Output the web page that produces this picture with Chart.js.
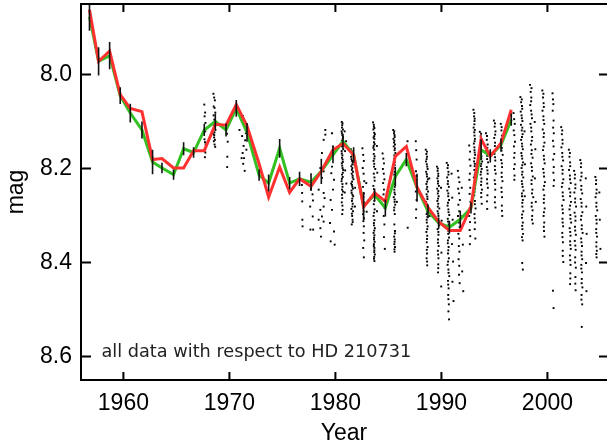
<!DOCTYPE html>
<html>
<head>
<meta charset="utf-8">
<script src="https://cdn.jsdelivr.net/npm/chart.js@4.4.0/dist/chart.umd.min.js"></script>
<style>
html,body{margin:0;padding:0;background:#fff;}
#wrap{width:607px;height:443px;position:relative;}
</style>
</head>
<body>
<div id="wrap"><canvas id="c" width="607" height="443"></canvas></div>
<script>
// ---- data ----
const seasonYears = [1956.8,1957.66,1958.7,1959.7,1960.65,1961.75,1962.75,1963.64,1964.73,1965.68,1966.62,1967.63,1968.67,1969.68,1970.65,1971.66,1972.8,1973.7,1974.74,1975.68,1976.62,1977.7,1978.67,1979.77,1980.71,1981.72,1982.66,1983.7,1984.71,1985.65,1986.69,1987.7,1988.73,1989.74,1990.75,1991.78,1992.79,1993.74,1994.61,1995.62,1996.59];
const greenMag = [7.877,7.972,7.960,8.045,8.082,8.118,8.186,8.199,8.213,8.158,8.166,8.118,8.100,8.118,8.072,8.123,8.214,8.231,8.157,8.231,8.222,8.229,8.206,8.171,8.142,8.171,8.280,8.256,8.284,8.217,8.181,8.241,8.291,8.316,8.325,8.308,8.284,8.160,8.173,8.150,8.096];
const redMag = [7.862,7.972,7.950,8.043,8.072,8.079,8.181,8.179,8.199,8.199,8.162,8.162,8.106,8.108,8.064,8.109,8.190,8.261,8.197,8.251,8.222,8.238,8.206,8.160,8.147,8.171,8.282,8.252,8.270,8.174,8.153,8.240,8.283,8.313,8.332,8.332,8.281,8.137,8.174,8.146,8.075];
const errMag = [0.030,0.030,0.029,0.018,0.020,0.018,0.026,0.011,0.011,0.014,0.011,0.013,0.017,0.014,0.018,0.020,0.012,0.018,0.020,0.013,0.015,0.019,0.027,0.018,0.016,0.016,0.030,0.013,0.018,0.020,0.014,0.030,0.015,0.012,0.014,0.018,0.012,0.022,0.014,0.014,0.013];
const xTickValues = [1960,1970,1980,1990,2000];
const yTickValues = [8.0,8.2,8.4,8.6];
const xTitle = 'Year';
const yTitle = 'mag';
const noteText = 'all data with respect to HD 210731';
const dots = [
[1967.63,8.064],[1967.71,8.081],[1967.66,8.089],[1967.74,8.103],[1967.69,8.117],[1967.72,8.121],[1967.65,8.138],[1967.70,8.144],[1967.76,8.149],[1967.67,8.162],[1967.73,8.166],[1967.69,8.176],
[1968.49,8.041],[1968.56,8.049],[1968.63,8.055],[1968.52,8.068],[1968.60,8.071],[1968.67,8.081],[1968.51,8.087],[1968.58,8.096],[1968.64,8.099],[1968.54,8.109],[1968.61,8.116],[1968.68,8.118],[1968.50,8.127],[1968.57,8.129],[1968.63,8.139],[1968.53,8.142],[1968.60,8.149],[1968.66,8.154],[1968.56,8.134],[1968.59,8.123],
[1969.78,8.126],[1969.80,8.175],[1969.79,8.197],[1969.84,8.143],
[1970.95,8.118],[1971.05,8.083],[1971.12,8.096],[1971.20,8.131],[1971.28,8.088],[1971.34,8.152],[1971.40,8.107],[1971.25,8.167],[1971.48,8.140],[1971.15,8.178],[1971.55,8.125],[1971.30,8.190],[1971.44,8.205],[1971.60,8.160],[1971.38,8.178],
[1976.84,8.235],[1976.86,8.252],[1976.88,8.309],[1976.90,8.323],[1976.87,8.270],
[1977.62,8.281],[1977.64,8.330],[1977.84,8.255],[1977.90,8.330],[1977.86,8.302],[1977.88,8.268],[1977.70,8.243],
[1979.05,8.118],[1979.05,8.128],[1978.89,8.139],[1978.73,8.167],[1978.58,8.199],[1978.89,8.206],[1978.73,8.220],[1978.89,8.252],[1978.98,8.263],[1978.89,8.281],[1978.58,8.288],[1978.73,8.302],[1978.42,8.309],[1978.89,8.313],[1978.58,8.327],[1978.64,8.345],[1978.42,8.245],
[1979.68,8.125],[1979.77,8.153],[1979.87,8.164],[1979.55,8.178],[1979.68,8.196],[1979.61,8.210],[1979.87,8.224],[1979.77,8.245],[1979.55,8.267],[1979.68,8.288],[1979.49,8.316],[1979.87,8.334],[1979.55,8.355],[1979.93,8.362],
[1980.60,8.101],[1980.67,8.104],[1980.62,8.113],[1980.71,8.117],[1980.58,8.121],[1980.65,8.129],[1980.72,8.133],[1980.61,8.141],[1980.68,8.144],[1980.63,8.153],[1980.74,8.159],[1980.59,8.163],[1980.66,8.172],[1980.62,8.177],[1980.70,8.186],[1980.60,8.189],[1980.67,8.199],[1980.73,8.203],[1980.62,8.213],[1980.69,8.218],[1980.58,8.227],[1980.66,8.233],[1980.63,8.245],[1980.71,8.249],[1980.64,8.263],[1980.60,8.272],[1980.68,8.288],[1980.64,8.297],[1980.87,8.121],[1980.91,8.163],[1980.92,8.204],[1980.88,8.251],[1981.01,8.142],[1981.03,8.232],
[1980.64,8.108],[1980.61,8.125],[1980.69,8.137],[1980.65,8.148],[1980.60,8.168],[1980.68,8.181],[1980.64,8.194],[1980.70,8.209],[1980.61,8.222],[1980.67,8.239],[1980.62,8.256],[1980.66,8.279],
[1981.45,8.159],[1981.53,8.163],[1981.61,8.171],[1981.48,8.175],[1981.57,8.184],[1981.64,8.187],[1981.50,8.195],[1981.59,8.199],[1981.66,8.207],[1981.54,8.211],[1981.63,8.219],[1981.70,8.223],[1981.49,8.232],[1981.56,8.235],[1981.65,8.243],[1981.52,8.247],[1981.61,8.256],[1981.68,8.259],[1981.56,8.269],[1981.63,8.275],[1981.51,8.286],[1981.66,8.291],[1981.58,8.301],[1981.62,8.309],[1981.54,8.319],[1981.80,8.192],[1981.86,8.241],[1981.84,8.281],
[1981.58,8.167],[1981.52,8.180],[1981.60,8.191],[1981.55,8.203],[1981.62,8.215],[1981.57,8.228],[1981.60,8.239],[1981.53,8.252],[1981.59,8.264],[1981.61,8.281],[1981.55,8.296],[1981.63,8.314],
[1982.55,8.157],[1982.62,8.171],[1982.68,8.184],[1982.58,8.199],[1982.66,8.211],[1982.72,8.227],[1982.60,8.239],[1982.68,8.253],[1982.64,8.261],[1982.70,8.273],[1982.62,8.281],[1982.66,8.291],[1982.60,8.297],[1982.70,8.306],[1982.64,8.312],[1982.68,8.323],[1982.66,8.337],[1982.72,8.353],[1982.62,8.369],[1982.68,8.389],[1982.91,8.231],[1982.95,8.292],
[1983.55,8.102],[1983.62,8.107],[1983.68,8.114],[1983.58,8.117],[1983.66,8.124],[1983.72,8.127],[1983.60,8.134],[1983.68,8.137],[1983.64,8.144],[1983.70,8.148],[1983.58,8.156],[1983.66,8.160],[1983.62,8.169],[1983.70,8.174],[1983.60,8.184],[1983.66,8.190],[1983.76,8.201],[1983.62,8.211],[1983.70,8.226],[1983.58,8.237],[1983.66,8.251],[1983.74,8.261],[1983.62,8.276],[1983.70,8.287],[1983.60,8.301],[1983.68,8.310],[1983.64,8.321],[1983.72,8.327],[1983.60,8.337],[1983.68,8.342],[1983.64,8.351],[1983.70,8.356],[1983.62,8.365],[1983.68,8.369],[1983.66,8.378],[1983.72,8.383],[1983.64,8.392],[1983.68,8.397],[1983.91,8.152],[1983.95,8.209],[1983.92,8.291],
[1983.63,8.111],[1983.66,8.131],[1983.61,8.152],[1983.67,8.179],[1983.64,8.196],[1983.68,8.219],[1983.63,8.244],[1983.67,8.269],[1983.65,8.294],[1983.63,8.316],[1983.66,8.332],[1983.65,8.347],[1983.63,8.361],[1983.67,8.374],[1983.66,8.388],
[1984.45,8.168],[1984.52,8.179],[1984.58,8.189],[1984.48,8.201],[1984.56,8.211],[1984.62,8.223],[1984.50,8.231],[1984.58,8.245],[1984.54,8.255],[1984.60,8.269],[1984.64,8.284],[1984.56,8.301],[1984.62,8.319],[1984.58,8.346],[1984.66,8.371],
[1985.45,8.118],[1985.52,8.125],[1985.58,8.129],[1985.48,8.137],[1985.56,8.141],[1985.62,8.149],[1985.50,8.153],[1985.58,8.161],[1985.66,8.167],[1985.54,8.179],[1985.60,8.187],[1985.50,8.199],[1985.58,8.207],[1985.64,8.219],[1985.52,8.227],[1985.60,8.239],[1985.56,8.245],[1985.62,8.255],[1985.50,8.261],[1985.58,8.271],[1985.64,8.277],[1985.54,8.289],[1985.60,8.297],[1985.56,8.319],[1985.62,8.333],[1985.54,8.345],[1985.60,8.351],[1985.56,8.361],[1985.62,8.367],[1985.58,8.377],[1985.78,8.212],[1985.80,8.271],
[1985.55,8.121],[1985.59,8.133],[1985.53,8.145],[1985.61,8.157],[1985.56,8.172],[1985.59,8.193],[1985.55,8.213],[1985.61,8.233],[1985.57,8.251],[1985.59,8.266],[1985.55,8.283],[1985.61,8.338],[1985.58,8.356],[1985.57,8.372],
[1986.80,8.142],[1986.82,8.326],
[1987.58,8.142],[1987.62,8.161],[1987.66,8.181],[1987.60,8.206],[1987.64,8.225],[1987.58,8.249],[1987.66,8.267],[1987.62,8.287],[1987.60,8.305],[1987.64,8.216],
[1988.52,8.160],[1988.58,8.169],[1988.64,8.175],[1988.54,8.185],[1988.62,8.191],[1988.70,8.201],[1988.56,8.207],[1988.64,8.217],[1988.72,8.223],[1988.58,8.233],[1988.66,8.239],[1988.74,8.249],[1988.60,8.255],[1988.68,8.265],[1988.56,8.271],[1988.64,8.281],[1988.72,8.287],[1988.60,8.297],[1988.68,8.303],[1988.62,8.315],[1988.70,8.323],[1988.58,8.335],[1988.66,8.343],[1988.62,8.357],[1988.70,8.367],[1988.64,8.381],[1988.60,8.391],[1988.66,8.406],[1988.86,8.221],[1988.90,8.301],
[1988.64,8.164],[1988.60,8.180],[1988.66,8.196],[1988.62,8.212],[1988.65,8.228],[1988.61,8.244],[1988.67,8.260],[1988.63,8.276],[1988.65,8.292],[1988.61,8.309],[1988.66,8.329],[1988.64,8.350],[1988.62,8.373],[1988.65,8.398],
[1989.58,8.196],[1989.64,8.205],[1989.70,8.211],[1989.62,8.221],[1989.68,8.227],[1989.76,8.237],[1989.60,8.243],[1989.66,8.253],[1989.74,8.259],[1989.62,8.269],[1989.70,8.275],[1989.80,8.285],[1989.64,8.291],[1989.72,8.301],[1989.68,8.309],[1989.76,8.321],[1989.64,8.329],[1989.72,8.341],[1989.68,8.351],[1989.74,8.365],[1989.66,8.375],[1989.72,8.391],[1989.70,8.404],[1989.68,8.421],[1989.96,8.241],[1990.02,8.311],[1990.00,8.379],[1989.98,8.451],
[1989.66,8.200],[1989.70,8.216],[1989.67,8.232],[1989.71,8.248],[1989.68,8.264],[1989.66,8.281],[1989.70,8.296],[1989.69,8.315],[1989.71,8.335],[1989.67,8.358],[1989.69,8.383],[1989.70,8.412],
[1990.50,8.188],[1990.58,8.199],[1990.66,8.207],[1990.54,8.219],[1990.62,8.227],[1990.70,8.239],[1990.56,8.247],[1990.64,8.259],[1990.72,8.267],[1990.58,8.279],[1990.66,8.287],[1990.74,8.299],[1990.60,8.307],[1990.68,8.319],[1990.56,8.327],[1990.64,8.339],[1990.72,8.347],[1990.60,8.359],[1990.68,8.367],[1990.62,8.381],[1990.70,8.391],[1990.58,8.405],[1990.66,8.415],[1990.74,8.429],[1990.62,8.439],[1990.68,8.455],[1990.64,8.469],[1990.70,8.489],[1990.66,8.504],[1990.72,8.521],[1990.96,8.211],[1991.02,8.262],[1991.06,8.309],[1991.00,8.361],[1991.10,8.398],[1991.04,8.441],[1991.14,8.482],
[1990.62,8.193],[1990.66,8.213],[1990.60,8.233],[1990.65,8.253],[1990.62,8.273],[1990.67,8.293],[1990.63,8.313],[1990.66,8.333],[1990.61,8.353],[1990.65,8.374],[1990.63,8.398],[1990.67,8.422],[1990.64,8.447],[1990.66,8.478],
[1991.55,8.205],[1991.62,8.219],[1991.70,8.229],[1991.58,8.243],[1991.66,8.253],[1991.74,8.267],[1991.60,8.277],[1991.68,8.291],[1991.56,8.301],[1991.64,8.315],[1991.72,8.325],[1991.60,8.339],[1991.68,8.349],[1991.64,8.365],[1991.70,8.377],[1991.62,8.393],[1991.68,8.407],[1991.66,8.426],[1991.72,8.444],[1991.92,8.241],[1991.98,8.301],[1992.02,8.362],[1991.96,8.419],[1992.06,8.461],
[1992.62,8.151],[1992.70,8.164],[1992.66,8.181],[1992.74,8.194],[1992.68,8.211],[1992.64,8.224],[1992.72,8.241],[1992.66,8.254],[1992.74,8.271],[1992.68,8.284],[1992.62,8.301],[1992.70,8.314],[1992.66,8.331],[1992.72,8.344],[1992.68,8.361],[1993.02,8.075],[1993.08,8.089],[1993.12,8.099],[1993.04,8.113],[1993.10,8.123],[1993.16,8.137],[1993.06,8.147],[1993.12,8.161],[1993.18,8.171],[1993.08,8.185],[1993.14,8.195],[1993.20,8.209],[1993.06,8.219],[1993.12,8.233],[1993.18,8.243],[1993.10,8.257],[1993.16,8.269],[1993.22,8.285],[1993.12,8.297],[1993.18,8.315],[1993.14,8.329],[1993.20,8.349],
[1993.10,8.082],[1993.14,8.094],[1993.11,8.106],[1993.15,8.118],[1993.12,8.130],[1993.13,8.142],[1993.11,8.155],[1993.14,8.166],[1993.12,8.178],[1993.15,8.190],[1993.11,8.203],[1993.14,8.214],[1993.13,8.227],[1993.12,8.250],[1993.15,8.276],[1993.13,8.306],
[1993.62,8.122],[1993.70,8.131],[1993.78,8.137],[1993.66,8.147],[1993.74,8.153],[1993.82,8.163],[1993.68,8.169],[1993.76,8.179],[1993.84,8.185],[1993.72,8.195],[1993.80,8.201],[1993.70,8.213],[1993.78,8.221],[1993.74,8.235],[1993.82,8.245],[1993.76,8.261],[1993.80,8.275],[1994.20,8.125],[1994.28,8.139],[1994.36,8.149],[1994.24,8.163],[1994.32,8.173],[1994.40,8.187],[1994.28,8.197],[1994.36,8.211],[1994.30,8.223],[1994.38,8.241],[1994.34,8.257],[1994.32,8.286],
[1993.74,8.126],[1993.76,8.142],[1993.72,8.158],[1993.77,8.174],[1993.75,8.190],[1993.73,8.207],[1993.76,8.228],[1993.75,8.252],
[1994.30,8.131],[1994.33,8.156],[1994.31,8.180],[1994.34,8.204],[1994.32,8.232],[1994.30,8.270],
[1994.95,8.098],[1995.02,8.111],[1995.10,8.121],[1994.98,8.135],[1995.06,8.145],[1995.14,8.159],[1995.00,8.169],[1995.08,8.183],[1995.04,8.195],[1995.12,8.211],[1995.02,8.225],[1995.08,8.245],[1995.06,8.261],[1995.10,8.283],[1995.60,8.105],[1995.66,8.119],[1995.72,8.130],[1995.62,8.145],[1995.70,8.156],[1995.78,8.171],[1995.64,8.182],[1995.72,8.197],[1995.68,8.209],[1995.76,8.227],[1995.66,8.241],[1995.72,8.261],[1995.70,8.279],[1995.74,8.301],
[1995.05,8.104],[1995.07,8.128],[1995.04,8.152],[1995.06,8.176],[1995.05,8.203],[1995.07,8.233],[1995.04,8.272],
[1995.68,8.112],[1995.70,8.137],[1995.67,8.162],[1995.70,8.189],[1995.69,8.218],[1995.68,8.250],[1995.71,8.290],
[1996.80,8.082],[1996.86,8.095],[1996.92,8.105],[1996.82,8.119],[1996.88,8.129],[1996.94,8.143],[1996.84,8.153],[1996.90,8.167],[1996.86,8.177],[1996.92,8.191],[1996.84,8.201],[1996.90,8.215],[1996.88,8.224],
[1997.45,8.048],[1997.52,8.059],[1997.60,8.067],[1997.48,8.079],[1997.56,8.087],[1997.64,8.099],[1997.50,8.107],[1997.58,8.119],[1997.66,8.127],[1997.52,8.139],[1997.60,8.147],[1997.68,8.159],[1997.54,8.167],[1997.62,8.179],[1997.70,8.187],[1997.56,8.199],[1997.64,8.207],[1997.72,8.219],[1997.58,8.227],[1997.66,8.239],[1997.74,8.247],[1997.60,8.259],[1997.68,8.267],[1997.64,8.281],[1997.72,8.291],[1997.60,8.305],[1997.68,8.315],[1997.64,8.329],[1997.70,8.339],[1997.66,8.353],[1997.62,8.401],[1997.68,8.415],[1997.84,8.121],[1997.88,8.191],[1997.86,8.259],
[1997.58,8.053],[1997.62,8.073],[1997.59,8.093],[1997.63,8.113],[1997.60,8.133],[1997.62,8.153],[1997.58,8.173],[1997.63,8.193],[1997.60,8.213],[1997.62,8.233],[1997.59,8.253],[1997.63,8.273],[1997.61,8.298],[1997.62,8.322],[1997.60,8.346],
[1998.36,8.022],[1998.42,8.037],[1998.48,8.049],[1998.38,8.065],[1998.46,8.077],[1998.54,8.093],[1998.40,8.105],[1998.48,8.121],[1998.56,8.133],[1998.44,8.149],[1998.52,8.161],[1998.60,8.177],[1998.46,8.189],[1998.54,8.205],[1998.62,8.217],[1998.50,8.233],[1998.58,8.245],[1998.66,8.261],[1998.52,8.273],[1998.60,8.289],[1998.56,8.301],[1998.62,8.317],[1998.80,8.101],[1998.86,8.159],[1998.82,8.221],[1998.90,8.271],
[1998.50,8.029],[1998.46,8.057],[1998.51,8.085],[1998.47,8.113],[1998.52,8.141],[1998.49,8.169],[1998.53,8.197],[1998.50,8.225],[1998.54,8.253],[1998.51,8.281],[1998.55,8.309],
[1999.52,8.034],[1999.58,8.049],[1999.64,8.061],[1999.54,8.077],[1999.62,8.089],[1999.70,8.105],[1999.56,8.117],[1999.64,8.133],[1999.72,8.145],[1999.58,8.161],[1999.66,8.173],[1999.74,8.189],[1999.60,8.201],[1999.68,8.217],[1999.76,8.229],[1999.62,8.245],[1999.70,8.257],[1999.66,8.273],[1999.74,8.285],[1999.64,8.301],[1999.70,8.315],[1999.68,8.333],[1999.72,8.345],
[1999.62,8.041],[1999.66,8.069],[1999.63,8.097],[1999.67,8.125],[1999.64,8.153],[1999.68,8.181],[1999.65,8.209],[1999.69,8.237],[1999.66,8.265],[1999.67,8.293],[1999.66,8.324],
[2000.48,8.040],[2000.52,8.053],[2000.56,8.063],[2000.50,8.077],[2000.58,8.098],[2000.54,8.113],[2000.60,8.125],[2000.52,8.141],[2000.58,8.153],[2000.64,8.169],[2000.54,8.181],[2000.60,8.197],[2000.56,8.209],[2000.62,8.225],[2000.58,8.237],[2000.52,8.460],[2000.58,8.497],
[2001.30,8.112],[2001.36,8.127],[2001.42,8.139],[2001.32,8.155],[2001.40,8.167],[2001.48,8.183],[2001.34,8.195],[2001.42,8.211],[2001.50,8.223],[2001.36,8.239],[2001.44,8.251],[2001.52,8.267],[2001.38,8.279],[2001.46,8.295],[2001.42,8.307],[2001.48,8.323],[2001.40,8.337],[2001.46,8.357],[2001.44,8.375],[2001.50,8.399],
[2001.40,8.119],[2001.43,8.147],[2001.41,8.175],[2001.44,8.203],[2001.42,8.231],[2001.45,8.259],[2001.43,8.287],[2001.44,8.315],[2001.42,8.346],[2001.45,8.386],
[2002.02,8.160],[2002.08,8.175],[2002.14,8.187],[2002.04,8.203],[2002.12,8.215],[2002.20,8.231],[2002.06,8.243],[2002.14,8.259],[2002.22,8.271],[2002.08,8.287],[2002.16,8.299],[2002.24,8.315],[2002.10,8.327],[2002.18,8.343],[2002.14,8.355],[2002.20,8.371],[2002.12,8.385],[2002.18,8.405],[2002.16,8.423],[2002.14,8.446],
[2002.12,8.167],[2002.15,8.195],[2002.13,8.223],[2002.16,8.251],[2002.14,8.279],[2002.17,8.307],[2002.15,8.335],[2002.16,8.363],[2002.15,8.395],[2002.16,8.434],
[2002.52,8.205],[2002.58,8.221],[2002.64,8.234],[2002.54,8.251],[2002.62,8.264],[2002.70,8.281],[2002.56,8.294],[2002.64,8.311],[2002.60,8.324],[2002.68,8.341],[2002.58,8.354],[2002.66,8.373],[2002.62,8.389],[2002.68,8.411],[2002.64,8.431],[2002.66,8.459],
[2002.60,8.213],[2002.63,8.242],[2002.61,8.272],[2002.64,8.302],[2002.62,8.332],[2002.63,8.364],[2002.61,8.400],[2002.63,8.445],
[2003.10,8.182],[2003.16,8.197],[2003.22,8.209],[2003.12,8.225],[2003.20,8.237],[2003.28,8.253],[2003.14,8.265],[2003.22,8.281],[2003.30,8.293],[2003.16,8.309],[2003.24,8.321],[2003.32,8.337],[2003.18,8.349],[2003.26,8.365],[2003.22,8.377],[2003.28,8.393],[2003.20,8.405],[2003.26,8.421],[2003.24,8.435],[2003.30,8.453],[2003.22,8.469],[2003.28,8.489],[2003.24,8.537],[2003.62,8.221],[2003.66,8.281],[2003.70,8.339],[2003.64,8.401],[2003.68,8.461],
[2003.18,8.189],[2003.21,8.217],[2003.19,8.245],[2003.22,8.273],[2003.20,8.301],[2003.23,8.329],[2003.21,8.357],[2003.22,8.385],[2003.20,8.413],[2003.23,8.444],[2003.21,8.479],
[2004.52,8.218],[2004.58,8.233],[2004.64,8.245],[2004.54,8.261],[2004.62,8.273],[2004.70,8.289],[2004.56,8.301],[2004.64,8.317],[2004.60,8.329],[2004.68,8.345],[2004.62,8.357],[2004.66,8.375],[2004.64,8.389],[2004.90,8.251],[2004.94,8.309],[2005.00,8.371],
[2004.60,8.225],[2004.62,8.253],[2004.61,8.281],[2004.63,8.309],[2004.61,8.337],[2004.62,8.366],[2004.61,8.382]
];

// ---- chart ----
const axisFont = {family: '"Liberation Sans", Arial, sans-serif', size: 23};
const AREA = {left: 81, top: 4, right: 607, bottom: 380};

const framePlugin = {
  id: 'frame',
  afterLayout(chart) {
    const a = chart.chartArea;
    a.left = AREA.left; a.top = AREA.top; a.right = AREA.right; a.bottom = AREA.bottom;
    a.width = a.right - a.left; a.height = a.bottom - a.top;
    const x = chart.scales.x, y = chart.scales.y;
    x.left = a.left; x.right = a.right; x.width = a.width;
    x.top = a.bottom; x.bottom = chart.height; x.height = chart.height - a.bottom;
    y.left = 0; y.right = a.left; y.width = a.left;
    y.top = a.top; y.bottom = a.bottom; y.height = a.height;
    x.configure(); y.configure();
  },
  afterDatasetsDraw(chart) {
    const {ctx, chartArea: a, scales: {x, y}} = chart;
    ctx.save();
    ctx.beginPath();
    ctx.rect(a.left, a.top, a.right - a.left, a.bottom - a.top);
    ctx.clip();
    ctx.strokeStyle = '#111';
    ctx.lineWidth = 1.6;
    ctx.beginPath();
    seasonYears.forEach((yr, i) => {
      const px = x.getPixelForValue(yr);
      ctx.moveTo(px, y.getPixelForValue(greenMag[i] - errMag[i]));
      ctx.lineTo(px, y.getPixelForValue(greenMag[i] + errMag[i]));
    });
    ctx.stroke();
    ctx.restore();
  },
  afterDraw(chart) {
    const {ctx, chartArea: a, scales: {x, y}} = chart;
    ctx.save();
    ctx.strokeStyle = '#000';
    ctx.lineWidth = 2;
    ctx.beginPath();
    ctx.moveTo(a.left, a.top); ctx.lineTo(a.right + 2, a.top);
    ctx.moveTo(a.left, a.top - 1); ctx.lineTo(a.left, a.bottom + 1);
    ctx.moveTo(a.left, a.bottom); ctx.lineTo(a.right + 2, a.bottom);
    xTickValues.forEach(v => {
      const px = x.getPixelForValue(v);
      ctx.moveTo(px, a.bottom); ctx.lineTo(px, a.bottom - 8);
      ctx.moveTo(px, a.top); ctx.lineTo(px, a.top + 8);
    });
    yTickValues.forEach(v => {
      const py = y.getPixelForValue(v);
      ctx.moveTo(a.left, py); ctx.lineTo(a.left + 10, py);
      ctx.moveTo(a.right, py); ctx.lineTo(a.right - 8, py);
    });
    ctx.stroke();
    ctx.font = '17.7px "DejaVu Sans"';
    ctx.fillStyle = '#222';
    ctx.textAlign = 'left';
    ctx.textBaseline = 'alphabetic';
    ctx.fillText(noteText, a.left + 20.5, 357);
    ctx.restore();
  }
};

new Chart(document.getElementById('c'), {
  type: 'scatter',
  data: {
    datasets: [
      {
        type: 'scatter',
        data: dots.map(d => ({x: d[0], y: d[1]})),
        pointStyle: 'rect',
        pointRadius: 1.35,
        pointBorderWidth: 0,
        backgroundColor: '#000',
        borderColor: '#000',
        order: 3
      },
      {
        type: 'line',
        data: seasonYears.map((yr, i) => ({x: yr, y: greenMag[i]})),
        borderColor: '#33c022',
        borderWidth: 3,
        pointRadius: 0,
        tension: 0,
        fill: false,
        order: 2
      },
      {
        type: 'line',
        data: seasonYears.map((yr, i) => ({x: yr, y: redMag[i]})),
        borderColor: '#ff3030',
        borderWidth: 3,
        pointRadius: 0,
        tension: 0,
        fill: false,
        order: 1
      }
    ]
  },
  options: {
    responsive: false,
    animation: false,
    devicePixelRatio: 1,
    layout: {padding: 0},
    plugins: {legend: {display: false}, tooltip: {enabled: false}},
    scales: {
      x: {
        type: 'linear',
        min: 1956,
        max: 2005.62,
        afterBuildTicks(s) { s.ticks = xTickValues.map(v => ({value: v})); },
        grid: {display: false, drawTicks: false},
        border: {display: false},
        ticks: {
          color: '#000', font: axisFont, padding: 10, maxRotation: 0, autoSkip: false,
          callback: v => String(v)
        },
        title: {display: true, text: xTitle, color: '#000', font: {family: axisFont.family, size: 23, lineHeight: 1}, padding: {top: 0, bottom: -2}}
      },
      y: {
        type: 'linear',
        min: 7.85,
        max: 8.65,
        reverse: true,
        afterBuildTicks(s) { s.ticks = yTickValues.map(v => ({value: v})); },
        grid: {display: false, drawTicks: false},
        border: {display: false},
        ticks: {
          color: '#000', font: axisFont, padding: 9, autoSkip: false,
          callback: v => Number(v).toFixed(1)
        },
        title: {display: true, text: yTitle, color: '#000', font: {family: axisFont.family, size: 23, lineHeight: 1}, padding: {top: 5, bottom: 0}}
      }
    }
  },
  plugins: [framePlugin]
});
</script>
</body>
</html>
